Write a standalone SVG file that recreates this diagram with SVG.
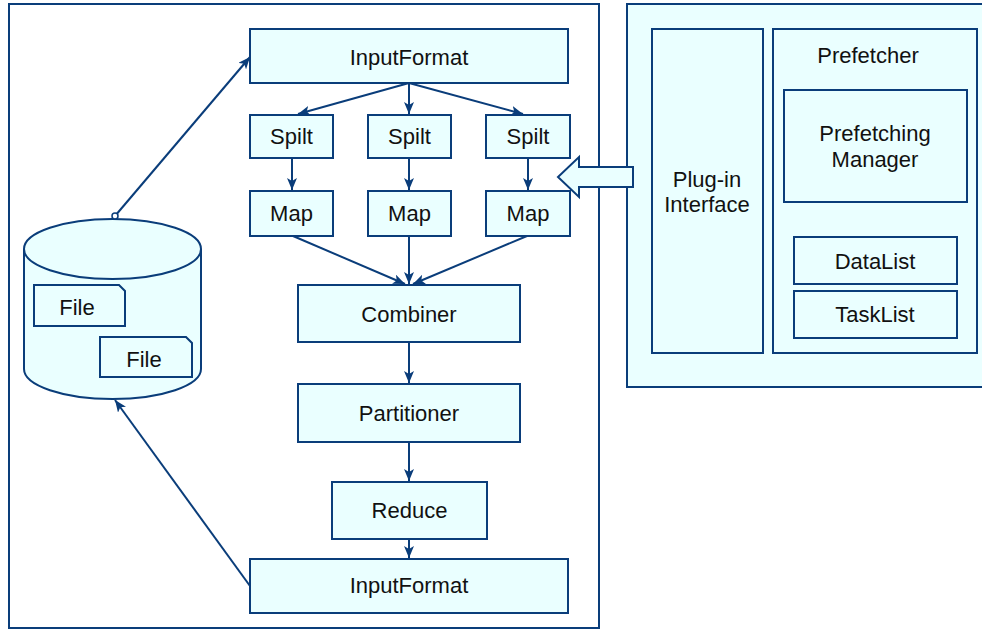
<svg xmlns="http://www.w3.org/2000/svg" width="982" height="630" viewBox="0 0 982 630">
<defs>
<style>
.b{fill:#EAFFFF;stroke:#0A3D7A;stroke-width:2}
.f{fill:none;stroke:#0A3D7A;stroke-width:2}
.t{font-family:"Liberation Sans",Arial,sans-serif;font-size:22px;fill:#111;text-anchor:middle}
.c{fill:none;stroke:#0A3D7A;stroke-width:2}
</style>
<marker id="ah" viewBox="0 0 10 10" refX="10" refY="5" markerWidth="6" markerHeight="6" markerUnits="userSpaceOnUse" orient="auto">
<path d="M0,0 L10,5 L0,10 z" fill="#0A3D7A"/>
</marker>
<marker id="ah2" viewBox="0 0 12 10" refX="12" refY="5" markerWidth="12" markerHeight="10" markerUnits="userSpaceOnUse" orient="auto">
<path d="M0,0 L12,5 L0,10 L3,5 z" fill="#0A3D7A"/>
</marker>
</defs>
<rect width="982" height="630" fill="#fff"/>
<g id="frame-left"><rect x="9" y="4" width="590" height="624" fill="none" stroke="#0A3D7A" stroke-width="2"/></g>
<g id="frame-right"><rect x="627" y="4" width="360" height="383" class="b"/></g>

<g id="plugin"><rect x="652" y="29" width="111" height="324" class="b"/>
<text class="t" x="707" y="187">Plug-in</text><text class="t" x="707" y="212">Interface</text></g>
<g id="prefetcher"><rect x="773" y="29" width="204" height="324" class="b"/>
<text class="t" x="868" y="63">Prefetcher</text></g>
<g id="manager"><rect x="784" y="90" width="183" height="112" class="b"/>
<text class="t" x="875" y="141">Prefetching</text><text class="t" x="875" y="167">Manager</text></g>
<g id="datalist"><rect x="794" y="237" width="163" height="47" class="b"/><text class="t" x="875" y="269">DataList</text></g>
<g id="tasklist"><rect x="794" y="291" width="163" height="47" class="b"/><text class="t" x="875" y="322">TaskList</text></g>
<g id="block-arrow"><path d="M633,167 L579,167 L579,157 L558,177 L579,197 L579,187 L633,187 Z" class="b"/></g>

<g id="inputformat-top"><rect x="250" y="29" width="318" height="54" class="b"/><text class="t" x="409" y="65">InputFormat</text></g>
<g id="spilt1"><rect x="250" y="115" width="83" height="43" class="b"/><text class="t" x="291.5" y="144">Spilt</text></g>
<g id="spilt2"><rect x="368" y="115" width="83" height="43" class="b"/><text class="t" x="409.5" y="144">Spilt</text></g>
<g id="spilt3"><rect x="486" y="115" width="84" height="43" class="b"/><text class="t" x="528" y="144">Spilt</text></g>
<g id="map1"><rect x="250" y="191" width="83" height="45" class="b"/><text class="t" x="291.5" y="221">Map</text></g>
<g id="map2"><rect x="368" y="191" width="83" height="45" class="b"/><text class="t" x="409.5" y="221">Map</text></g>
<g id="map3"><rect x="486" y="191" width="84" height="45" class="b"/><text class="t" x="528" y="221">Map</text></g>
<g id="combiner"><rect x="298" y="285" width="222" height="57" class="b"/><text class="t" x="409" y="322">Combiner</text></g>
<g id="partitioner"><rect x="298" y="384" width="222" height="58" class="b"/><text class="t" x="409" y="421">Partitioner</text></g>
<g id="reduce"><rect x="332" y="482" width="155" height="57" class="b"/><text class="t" x="409.5" y="518">Reduce</text></g>
<g id="inputformat-bottom"><rect x="250" y="559" width="318" height="54" class="b"/><text class="t" x="409" y="593">InputFormat</text></g>

<g id="storage">
<path d="M24,249 L24,369 A88.5,30 0 0 0 201,369 L201,249" class="b"/>
<ellipse cx="112.5" cy="249" rx="88.5" ry="30" class="b"/>
<g id="file1"><path d="M34,285 L119,285 L125,291 L125,326 L34,326 Z" class="b"/><text class="t" x="77" y="315">File</text></g>
<g id="file2"><path d="M100,337 L186,337 L192,343 L192,377 L100,377 Z" class="b"/><text class="t" x="144" y="367">File</text></g>
</g>

<g id="connectors">
<line x1="115" y1="216" x2="250" y2="57" class="c" marker-end="url(#ah2)"/>
<circle cx="115" cy="216" r="3" fill="#fff" stroke="#0A3D7A" stroke-width="1.5"/>
<line x1="250" y1="586" x2="115" y2="400" class="c" marker-end="url(#ah2)"/>
<line x1="409" y1="83" x2="298" y2="114" class="c" marker-end="url(#ah2)"/>
<line x1="409" y1="83" x2="409" y2="114" class="c" marker-end="url(#ah2)"/>
<line x1="409" y1="83" x2="523" y2="114" class="c" marker-end="url(#ah2)"/>
<line x1="292" y1="158" x2="292" y2="190" class="c" marker-end="url(#ah2)"/>
<line x1="409" y1="158" x2="409" y2="190" class="c" marker-end="url(#ah2)"/>
<line x1="528" y1="158" x2="528" y2="190" class="c" marker-end="url(#ah2)"/>
<line x1="293" y1="236" x2="405" y2="284" class="c" marker-end="url(#ah2)"/>
<line x1="409" y1="236" x2="409" y2="284" class="c" marker-end="url(#ah2)"/>
<line x1="527" y1="236" x2="413" y2="284" class="c" marker-end="url(#ah2)"/>
<line x1="409" y1="342" x2="409" y2="383" class="c" marker-end="url(#ah2)"/>
<line x1="409" y1="442" x2="409" y2="481" class="c" marker-end="url(#ah2)"/>
<line x1="409" y1="539" x2="409" y2="558" class="c" marker-end="url(#ah2)"/>
</g>
</svg>
